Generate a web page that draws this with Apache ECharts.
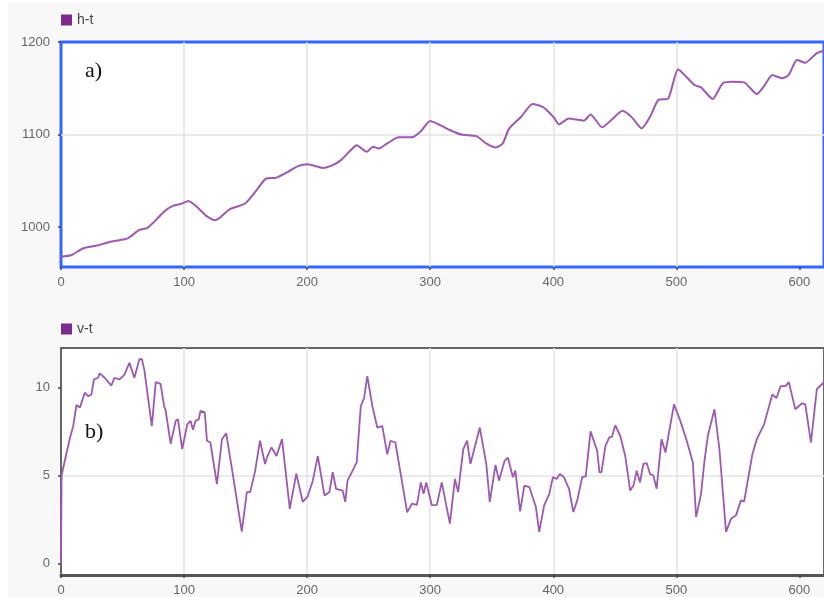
<!DOCTYPE html>
<html>
<head>
<meta charset="utf-8">
<script src="https://cdn.jsdelivr.net/npm/echarts@6/dist/echarts.min.js"></script>
<style>
  html, body { margin: 0; padding: 0; background: #fff; }
  #chart { width: 824px; height: 597px; }
</style>
</head>
<body>
<div id="chart"></div>
<script>
// height over time (h-t)
const hTime = [0, 8.6, 17.8, 28.6, 39.5, 47.4, 54.3, 63.7, 70, 77, 83.9, 90.5, 97.2, 103.6, 112, 118.4,
  125.3, 129.3, 137.2, 149.6, 158.9, 166.8, 174.7, 184.6, 192.5, 200.4, 212.7, 220.8, 227.5, 234.2,
  240.3, 248.4, 253.7, 258.4, 265.1, 274.4, 285.2, 292, 300, 308, 315.8, 325.5, 337.6, 345.5, 353.3,
  359, 364.2, 373.9, 383.2, 391.3, 393.8, 400.7, 404.7, 412.6, 424.9, 430.3, 439.7, 447.7, 456.3,
  463.9, 471.8, 478.7, 485.3, 493.5, 501.4, 508.1, 514.8, 520.1, 529.6, 537.6, 545.7, 555.1, 565.4,
  571.3, 578, 586, 591.2, 598.1, 604.8, 613.9, 620];
const hValue = [968, 970, 977, 980, 984, 986, 988, 997, 999, 1007.6, 1017, 1022.7, 1025, 1028.4, 1020, 1012,
  1007.6, 1010.5, 1019.5, 1025.6, 1040, 1052.6, 1053.3, 1059.8, 1066, 1068, 1064, 1067, 1072.4, 1081.4,
  1088.6, 1081.4, 1086.9, 1085, 1090.5, 1097, 1097, 1103, 1114.6, 1110.3, 1105, 1100, 1098.4, 1090.5, 1086,
  1090.5, 1106.7, 1119.3, 1133, 1130, 1127.6, 1118, 1111, 1117.5, 1115, 1121.8, 1107.8, 1116.4, 1125.7,
  1118.6, 1106.7, 1119.3, 1137.3, 1139, 1170.5, 1162.5, 1153.5, 1151, 1138.4, 1155.3, 1157, 1156.4, 1143.8,
  1152.4, 1164.3, 1160.8, 1164.3, 1180.5, 1177.6, 1187.8, 1191];

// velocity over time (v-t)
const vTime = [0, 0.5, 3.3, 7.2, 9.9, 12.6, 15.3, 19.3, 22, 24.7, 26.8, 30.1, 31.4, 35.5, 40.9, 43.4, 47.4,
  51.3, 55.6, 59.6, 63.7, 65.8, 67.7, 69.1, 73.8, 77, 80.9, 83.9, 84.9, 89.1, 93.2, 95, 98.5, 102.6,
  105.3, 107.2, 109.4, 112, 113.3, 116.8, 118.6, 121.4, 126.7, 130.8, 134.2, 138.9, 146.9, 151, 153.7,
  157.6, 161.7, 162.9, 165.8, 167.8, 171, 175.1, 179.6, 185.9, 191.2, 196.4, 200.4, 204.6, 208.7,
  214.1, 218.1, 220.8, 223.5, 228.8, 231, 232.8, 238.3, 240.3, 243.6, 246.3, 248.9, 253, 257, 261.1,
  265.1, 267.8, 271.7, 281.3, 285.2, 289.2, 292.4, 294.6, 296.8, 301.3, 305.4, 309.4, 316, 320.1,
  322.7, 326.9, 330, 332.7, 340.3, 345.6, 348.4, 353.1, 355.9, 360.5, 363.2, 367.2, 369.2, 373.1,
  376.5, 380.6, 385.9, 388.6, 392.6, 396.8, 399.7, 402.7, 405.3, 408.6, 412.8, 416.3, 419.5, 423.5,
  426.4, 430.3, 435.7, 437.5, 439.2, 442.4, 445.5, 447.7, 450.4, 454.4, 458.5, 462.5, 465.2, 467.8,
  470.5, 473.2, 475.9, 478.7, 481.3, 484, 488, 491.2, 498.1, 502.7, 508.1, 513.4, 516.1, 520.1, 522.9,
  525.6, 531, 535, 540.4, 544.5, 548.5, 552.5, 555.1, 561.8, 565.4, 571.3, 578, 581.4, 584.7, 588.7,
  591.4, 596.7, 602.1, 604.8, 609.4, 614.2, 620];
const vValue = [0, 5.0, 5.9, 7.1, 7.8, 9.0, 8.85, 9.7, 9.5, 9.6, 10.45, 10.55, 10.8, 10.55, 10.1, 10.55, 10.45,
  10.7, 11.4, 10.55, 11.6, 11.6, 11.0, 11.1, 7.8, 10.3, 10.2, 8.9, 8.75, 6.8, 8.1, 8.2, 6.5, 7.9,
  8.1, 7.6, 8.1, 8.2, 8.66, 8.6, 6.97, 6.87, 4.5, 7.06, 7.4, 5.37, 1.8, 4.05, 4.05,
  5.2, 6.97, 7.06, 5.65, 6.1, 6.6, 6.1, 7.06, 3.1, 5.1, 3.5, 3.8, 4.7, 6.1,
  3.86, 4.05, 5.18, 4.24, 4.14, 3.5, 4.7, 5.46, 5.75, 8.94, 9.4, 10.64, 8.94, 7.72, 7.8,
  6.2, 6.97, 6.87, 2.9, 3.4, 3.33, 4.6, 3.95, 4.6, 3.3, 3.33, 4.6, 2.26, 4.8,
  4.05, 6.5, 6.97, 5.65, 7.72, 5.65, 3.5, 5.6, 4.7, 5.84, 6.0, 4.9, 5.27, 2.95,
  4.42, 4.33, 3.2, 1.79, 3.3, 3.95, 4.9, 4.8, 5.08, 4.9, 4.24, 2.92, 3.58, 4.9,
  4.95, 7.5, 6.4, 5.18, 5.18, 6.68, 7.16, 7.2, 7.85, 7.25, 6.1, 4.14, 4.42, 5.27,
  4.6, 5.65, 5.7, 5.08, 5.0, 4.24, 7.06, 6.3, 9.04, 8.2, 7.06, 5.75, 2.64, 3.95, 5.84,
  7.25, 8.76, 6.5, 1.79, 2.54, 2.73, 3.58, 3.52, 6.2, 7.06, 7.9, 9.6, 9.4, 10.07, 10.07,
  10.3, 8.76, 9.1, 9.04, 6.87, 9.9, 10.3];

// tick labels
const xTicks = [0, 100, 200, 300, 400, 500, 600];
const hTicks = [1000, 1100, 1200];
const vTicks = [0, 5, 10];

const hData = hTime.map((t, i) => [t, hValue[i]]);
const vData = vTime.map((t, i) => [t, vValue[i]]);

const lineColor = '#9d58b0';
const iconColor = '#7b2b8e';
const fontFamily = 'Liberation Sans, Arial, sans-serif';
const labelStyle = { color: '#666', fontSize: 13, fontFamily, formatter: v => String(v) };
const splitLine = { show: true, showMinLine: false, showMaxLine: false,
  lineStyle: { color: '#e3e3e3', width: 1.5 } };
const tick = { show: true, length: 3, lineStyle: { color: '#444', width: 1.5 } };

function xAxisFor(gridIndex) {
  return {
    type: 'value', gridIndex, min: 0, max: 620, interval: 100,
    axisLine: { show: false },
    axisTick: Object.assign({}, tick, { customValues: xTicks }),
    axisLabel: Object.assign({ margin: 9, customValues: xTicks }, labelStyle),
    splitLine
  };
}

const chart = echarts.init(document.getElementById('chart'), null, { renderer: 'canvas' });
chart.setOption({
  animation: false,
  backgroundColor: '#f8f8f8',
  legend: [
    { left: 56, top: 8, itemWidth: 11, itemHeight: 11, icon: 'rect', data: ['h-t'],
      textStyle: { color: '#444', fontSize: 14, fontFamily } },
    { left: 56, top: 317, itemWidth: 11, itemHeight: 11, icon: 'rect', data: ['v-t'],
      textStyle: { color: '#444', fontSize: 14, fontFamily } }
  ],
  grid: [
    { left: 61, top: 42, right: -6, height: 225, show: true, backgroundColor: '#fff',
      borderColor: '#3366ff', borderWidth: 3 },
    { left: 61, top: 348, right: -6, height: 229, show: true, backgroundColor: '#fff',
      borderColor: '#666', borderWidth: 2 }
  ],
  xAxis: [
    xAxisFor(0),
    Object.assign(xAxisFor(1), {
      axisLine: { show: true, onZero: false, lineStyle: { color: '#555', width: 3 } }
    })
  ],
  yAxis: [
    { type: 'value', gridIndex: 0, min: 957, max: 1200,
      axisLine: { show: false },
      axisTick: Object.assign({}, tick, { customValues: hTicks }),
      axisLabel: Object.assign({ margin: 11, customValues: hTicks }, labelStyle),
      splitLine },
    { type: 'value', gridIndex: 1, min: -0.66, max: 12.24,
      axisLine: { show: false },
      axisTick: Object.assign({}, tick, { customValues: vTicks }),
      axisLabel: Object.assign({ margin: 11, customValues: vTicks }, labelStyle),
      splitLine }
  ],
  series: [
    { name: 'h-t', type: 'line', xAxisIndex: 0, yAxisIndex: 0, data: hData,
      showSymbol: false, smooth: 0.2, itemStyle: { color: iconColor },
      lineStyle: { color: lineColor, width: 2 } },
    { name: 'v-t', type: 'line', xAxisIndex: 1, yAxisIndex: 1, data: vData,
      showSymbol: false, itemStyle: { color: iconColor },
      lineStyle: { color: lineColor, width: 1.8 } }
  ],
  graphic: [
    { type: 'rect', left: 0, top: 0, shape: { width: 8, height: 597 }, style: { fill: '#fff' }, silent: true },
    { type: 'rect', left: 0, top: 0, shape: { width: 824, height: 3 }, style: { fill: '#fff' }, silent: true },
    { type: 'text', left: 85, top: 60, style: { text: 'a)', font: '22px "Liberation Serif", serif', fill: '#111' } },
    { type: 'text', left: 85, top: 421, style: { text: 'b)', font: '22px "Liberation Serif", serif', fill: '#111' } }
  ]
});
</script>
</body>
</html>
